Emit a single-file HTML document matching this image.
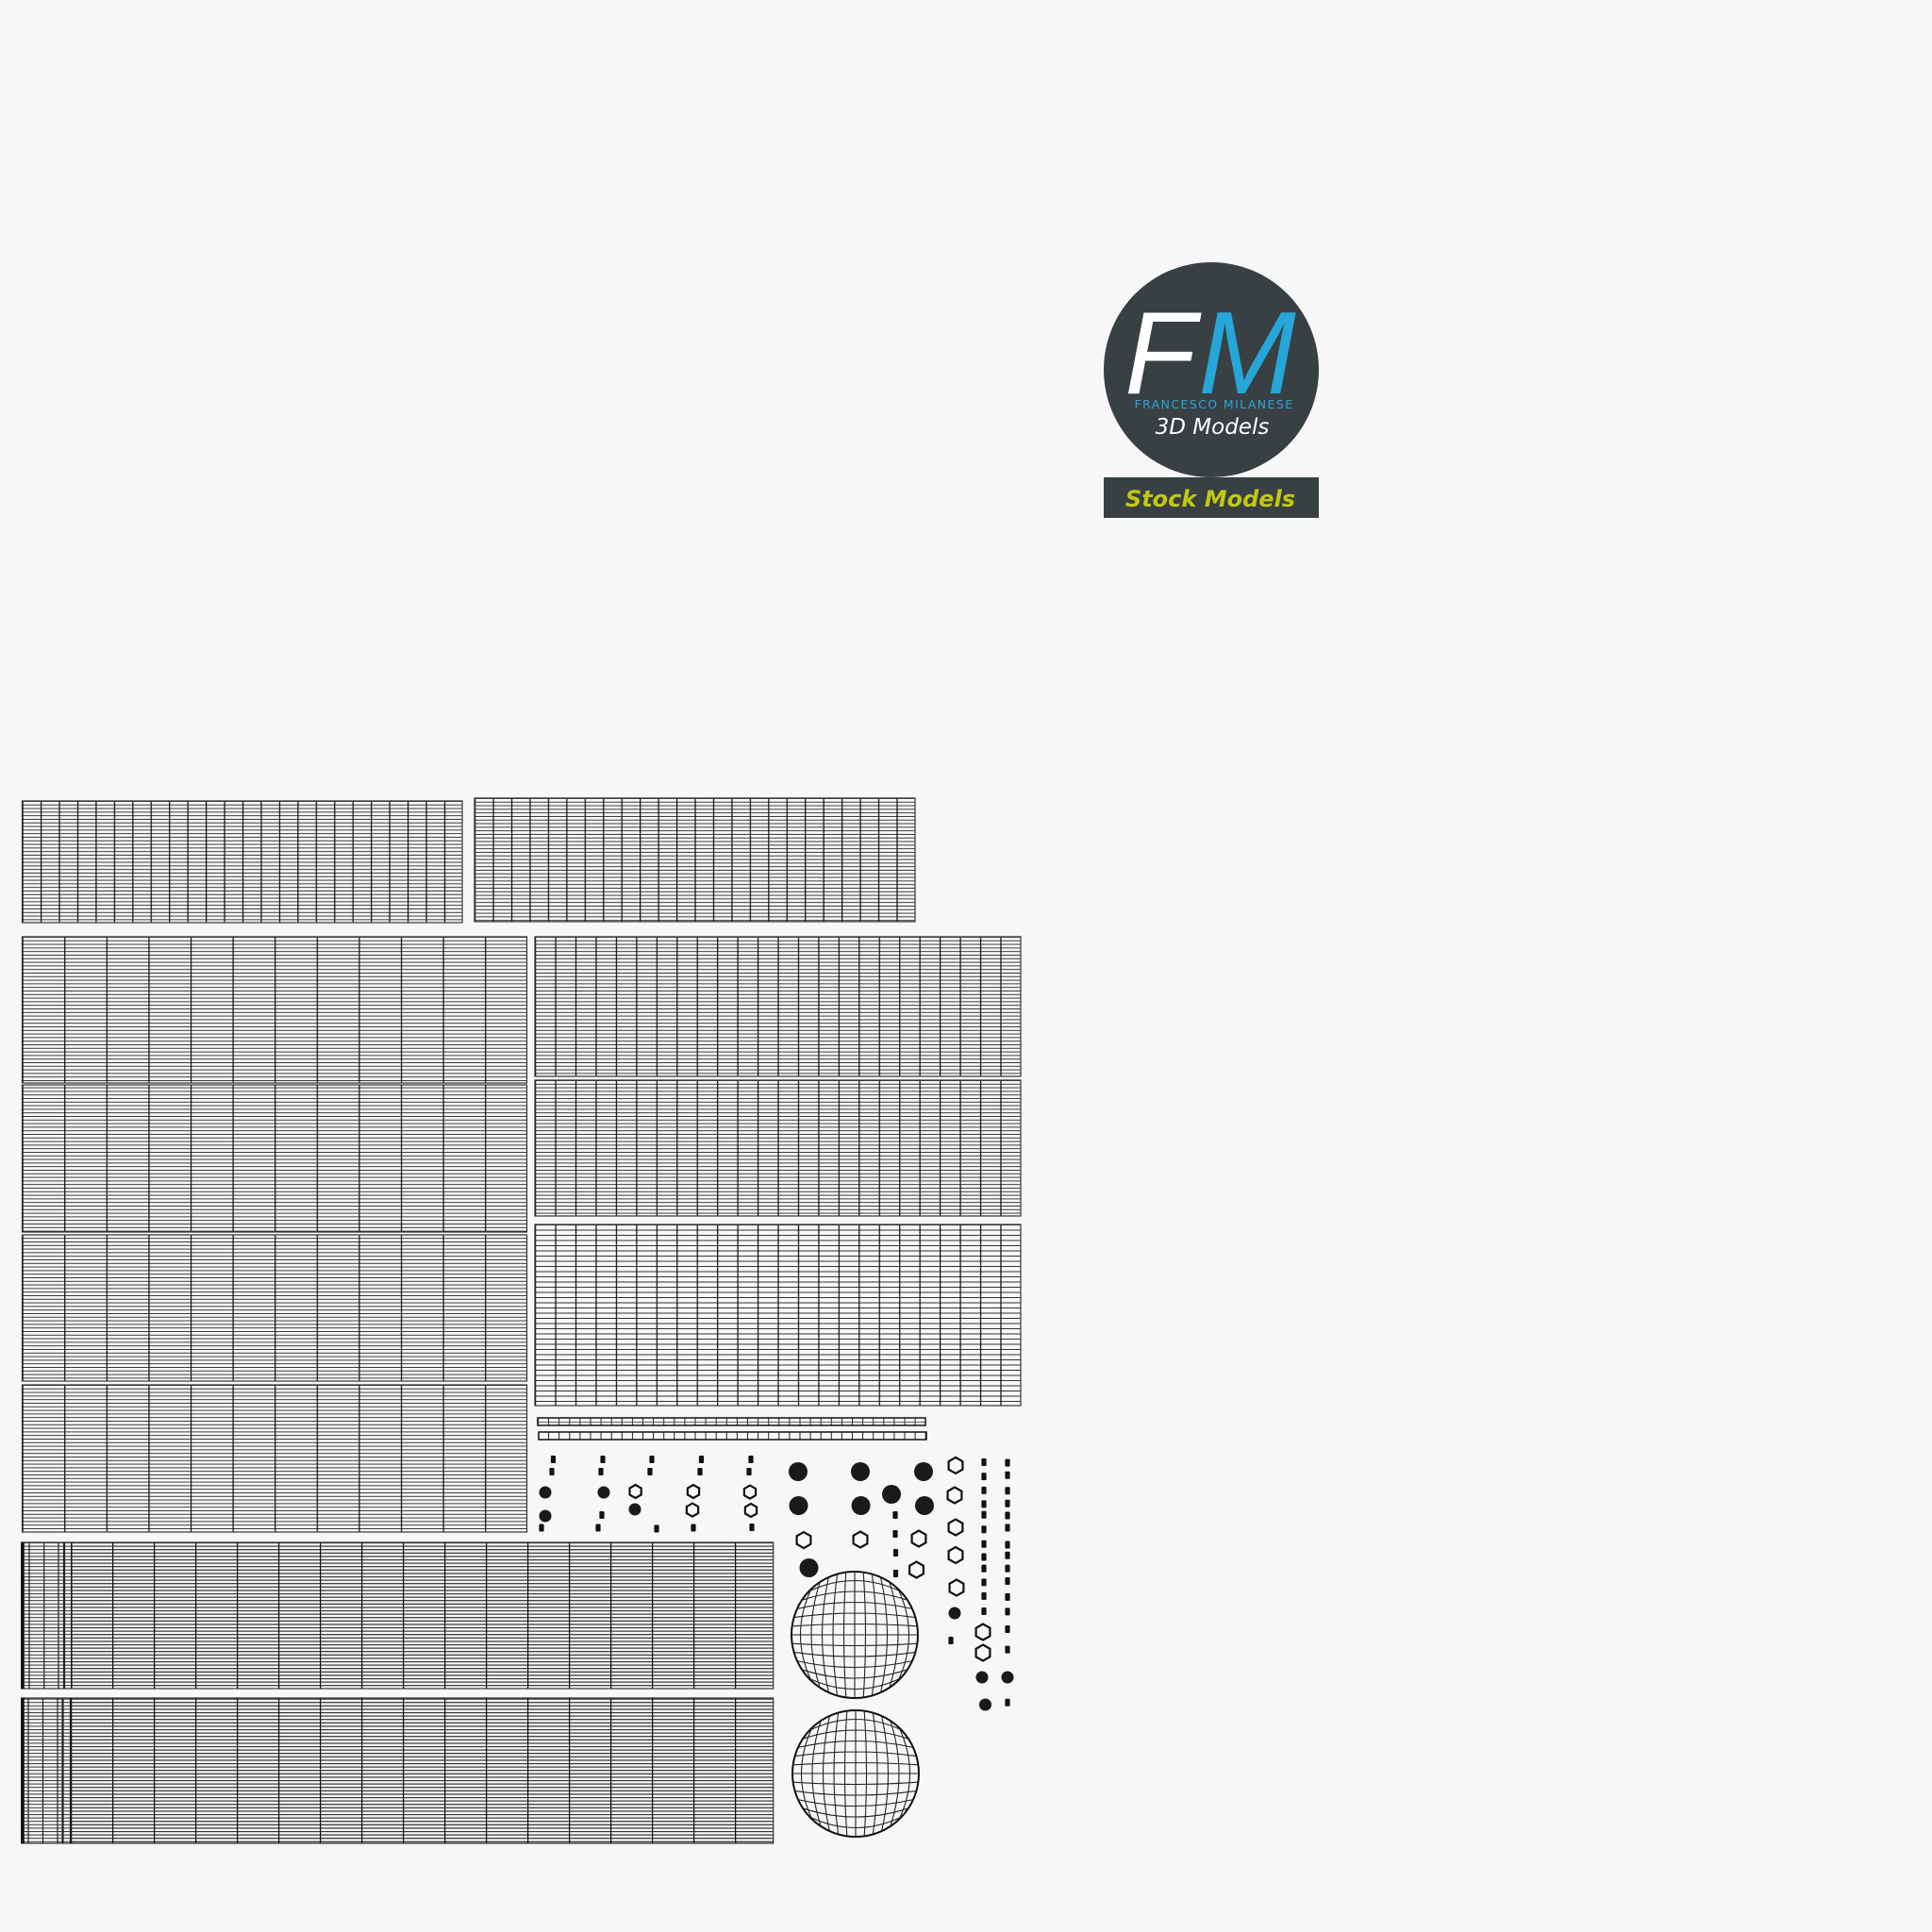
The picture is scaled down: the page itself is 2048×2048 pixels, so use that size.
<!DOCTYPE html>
<html><head><meta charset="utf-8"><style>
html,body{margin:0;padding:0;background:#f7f7f7;}
svg{display:block}
</style></head><body>
<svg id="s" width="2048" height="2048" viewBox="0 0 2048 2048" xmlns="http://www.w3.org/2000/svg">
<rect width="2048" height="2048" fill="#f7f7f7"/>
<defs>
<pattern id="pA" patternUnits="userSpaceOnUse" x="23.5" y="849" width="19.45" height="3.8"><line x1="0" y1="0.5" x2="19.45" y2="0.5" stroke="#333" stroke-width="1"/><line x1="0.6" y1="0" x2="0.6" y2="3.8" stroke="#111" stroke-width="1.3"/></pattern>
<pattern id="pB" patternUnits="userSpaceOnUse" x="503" y="846" width="19.45" height="3.8"><line x1="0" y1="0.5" x2="19.45" y2="0.5" stroke="#333" stroke-width="1"/><line x1="0.6" y1="0" x2="0.6" y2="3.8" stroke="#111" stroke-width="1.3"/></pattern>
<pattern id="pL" patternUnits="userSpaceOnUse" x="23.5" y="993" width="44.6" height="3.8"><line x1="0" y1="0.5" x2="44.6" y2="0.5" stroke="#333" stroke-width="1"/><line x1="0.6" y1="0" x2="0.6" y2="3.8" stroke="#111" stroke-width="1.3"/></pattern>
<pattern id="pR" patternUnits="userSpaceOnUse" x="567" y="993" width="21.45" height="3.8"><line x1="0" y1="0.5" x2="21.45" y2="0.5" stroke="#333" stroke-width="1"/><line x1="0.6" y1="0" x2="0.6" y2="3.8" stroke="#111" stroke-width="1.3"/></pattern>
<pattern id="pR3" patternUnits="userSpaceOnUse" x="567" y="1298" width="21.45" height="5.5"><line x1="0" y1="0.5" x2="21.45" y2="0.5" stroke="#333" stroke-width="1"/><line x1="0.6" y1="0" x2="0.6" y2="5.5" stroke="#111" stroke-width="1.3"/></pattern>
<pattern id="pBt" patternUnits="userSpaceOnUse" x="75" y="1635" width="44" height="3.6"><line x1="0" y1="0.5" x2="44" y2="0.5" stroke="#333" stroke-width="1"/><line x1="0.6" y1="0" x2="0.6" y2="3.6" stroke="#111" stroke-width="1.3"/></pattern>
<pattern id="pBh" patternUnits="userSpaceOnUse" x="0" y="1635" width="10" height="3.6"><line x1="0" y1="0.5" x2="10" y2="0.5" stroke="#333" stroke-width="1"/></pattern>
<pattern id="pS" patternUnits="userSpaceOnUse" x="570" y="1503" width="11.1" height="10"><line x1="0.5" y1="0" x2="0.5" y2="10" stroke="#222" stroke-width="1"/><line x1="0" y1="4.5" x2="11.1" y2="4.5" stroke="#555" stroke-width="0.9"/></pattern>
</defs>
<g stroke="#333" stroke-width="1.2">
<rect x="23.5" y="849" width="466.5" height="129" fill="url(#pA)"/>
<rect x="503" y="846" width="467" height="131" fill="url(#pB)"/>
<rect x="23.5" y="993" width="535" height="155" fill="url(#pL)"/>
<rect x="23.5" y="1150" width="535" height="156" fill="url(#pL)"/>
<rect x="23.5" y="1309" width="535" height="155" fill="url(#pL)"/>
<rect x="23.5" y="1468" width="535" height="156" fill="url(#pL)"/>
<rect x="567" y="993" width="515" height="148" fill="url(#pR)"/>
<rect x="567" y="1145" width="515" height="144" fill="url(#pR)"/>
<rect x="567" y="1298" width="515" height="192" fill="url(#pR3)"/>
<rect x="570" y="1503" width="411" height="8" fill="url(#pS)" stroke="#111" stroke-width="1.5"/>
<rect x="571" y="1518" width="411" height="8" fill="url(#pS)" stroke="#111" stroke-width="1.5"/>
<rect x="22.7" y="1635" width="797" height="155" fill="url(#pBh)"/>
<rect x="75" y="1635" width="745" height="155" fill="url(#pBt)" stroke="none"/>
<rect x="22.7" y="1800" width="797" height="154" fill="url(#pBh)"/>
<rect x="75" y="1800" width="745" height="154" fill="url(#pBt)" stroke="none"/>
</g>
<g stroke="#222" stroke-width="1.2">
<line x1="24" y1="1635" x2="24" y2="1790" stroke-width="3.5" stroke="#111"/>
<line x1="31" y1="1635" x2="31" y2="1790"/><line x1="46.7" y1="1635" x2="46.7" y2="1790"/><line x1="62" y1="1635" x2="62" y2="1790"/><line x1="68" y1="1635" x2="68" y2="1790" stroke-width="2.2"/><line x1="76" y1="1635" x2="76" y2="1790"/>
<line x1="24" y1="1800" x2="24" y2="1954" stroke-width="3.5" stroke="#111"/>
<line x1="30" y1="1800" x2="30" y2="1954"/><line x1="45.5" y1="1800" x2="45.5" y2="1954"/><line x1="61" y1="1800" x2="61" y2="1954"/><line x1="66.5" y1="1800" x2="66.5" y2="1954" stroke-width="2.2"/><line x1="74.5" y1="1800" x2="74.5" y2="1954"/>
</g>
<g id="dyn"></g>
<circle cx="1284" cy="392" r="114" fill="#384043"/>
<rect x="1170" y="506" width="228" height="43" fill="#384043"/>
<text x="1230" y="417" font-family="Liberation Sans, sans-serif" font-style="italic" font-size="124" fill="#ffffff" text-anchor="middle">F</text>
<text x="1322" y="417" font-family="Liberation Sans, sans-serif" font-style="italic" font-size="124" fill="#26a6d9" text-anchor="middle">M</text>
<text x="1287" y="433" font-family="DejaVu Sans, sans-serif" font-size="12.5" letter-spacing="1.4" fill="#2aa6d8" text-anchor="middle">FRANCESCO MILANESE</text>
<text x="1285" y="460" font-family="DejaVu Sans, sans-serif" font-style="italic" font-size="23" fill="#ffffff" text-anchor="middle">3D Models</text>
<text x="1283" y="537" font-family="DejaVu Sans, sans-serif" font-style="italic" font-weight="bold" font-size="24" fill="#c3c714" text-anchor="middle">Stock Models</text>
</svg>
<script>
var g=document.getElementById('dyn'),NS='http://www.w3.org/2000/svg';
function el(t,a){var e=document.createElementNS(NS,t);for(var k in a)e.setAttribute(k,a[k]);g.appendChild(e);return e;}
function sphere(cx,cy,r){
 el('circle',{cx:cx,cy:cy,r:r,fill:'#f7f7f7',stroke:'#111','stroke-width':2});
 var d='';
 for(var k=-5;k<=5;k++){var o=k*11.5;var p=0.8*o;var h=Math.sqrt(r*r-p*p);
  d+='M'+(cx+p)+','+(cy-h)+' Q'+(cx+1.2*o)+','+cy+' '+(cx+p)+','+(cy+h)+' ';
  d+='M'+(cx-h)+','+(cy+p)+' Q'+cx+','+(cy+1.2*o)+' '+(cx+h)+','+(cy+p)+' ';}
 el('path',{d:d,fill:'none',stroke:'#222','stroke-width':1.1});
}
sphere(906,1733,67);sphere(907,1880,67);
function R(x,y){el('rect',{x:x-2.6,y:y-4,width:5.2,height:8,rx:1,fill:'#111'});}
function C(x,y,r){el('circle',{cx:x,cy:y,r:r,fill:'#1a1a1a'});}
function H(x,y,r){var p=[];for(var i=0;i<6;i++){var a=Math.PI/6+i*Math.PI/3;p.push((x+r*Math.cos(a)).toFixed(1)+','+(y+r*Math.sin(a)).toFixed(1));}el('polygon',{points:p.join(' '),fill:'none',stroke:'#111','stroke-width':2.2});}
[[586.5,1547],[585,1560],[639,1547],[637,1560],[691,1547],[689,1560],[743.5,1547],[742,1560],[796,1547],[794,1560],[574,1619.5],[634,1619.5],[696,1620.5],[735,1619.5],[797,1619],[638,1606],[949,1606],[949,1626],[949.5,1646],[949.5,1668],[1008,1739]].forEach(function(p){R(p[0],p[1]);});
[[578,1582],[578,1607],[640,1582],[673,1600],[1012,1710],[1041,1778],[1068,1778],[1044.5,1807]].forEach(function(p){C(p[0],p[1],6.5);});
[[846,1560],[912,1560],[979,1560],[846.5,1596],[912.6,1596],[980,1596],[945,1584],[857.5,1662]].forEach(function(p){C(p[0],p[1],10);});
[[673.6,1581],[735,1581],[734,1600.6],[795,1581.6],[796,1601]].forEach(function(p){H(p[0],p[1],7);});
[[852,1632.6],[912,1632],[974,1631],[971.5,1664],[1013,1553.4],[1012,1585],[1013,1619],[1013,1648.5],[1014,1683],[1042,1730],[1042,1752]].forEach(function(p){H(p[0],p[1],8.5);});
[58,102,145,187,220,265,310,350,385,428,470,517].forEach(function(v){R(1043,1530+v/2.904);});
[60,98,146,185,222,260,312,345,385,424,473,518,572,635,798].forEach(function(v){R(1068,1530+v/2.904);});
</script>
</body></html>
